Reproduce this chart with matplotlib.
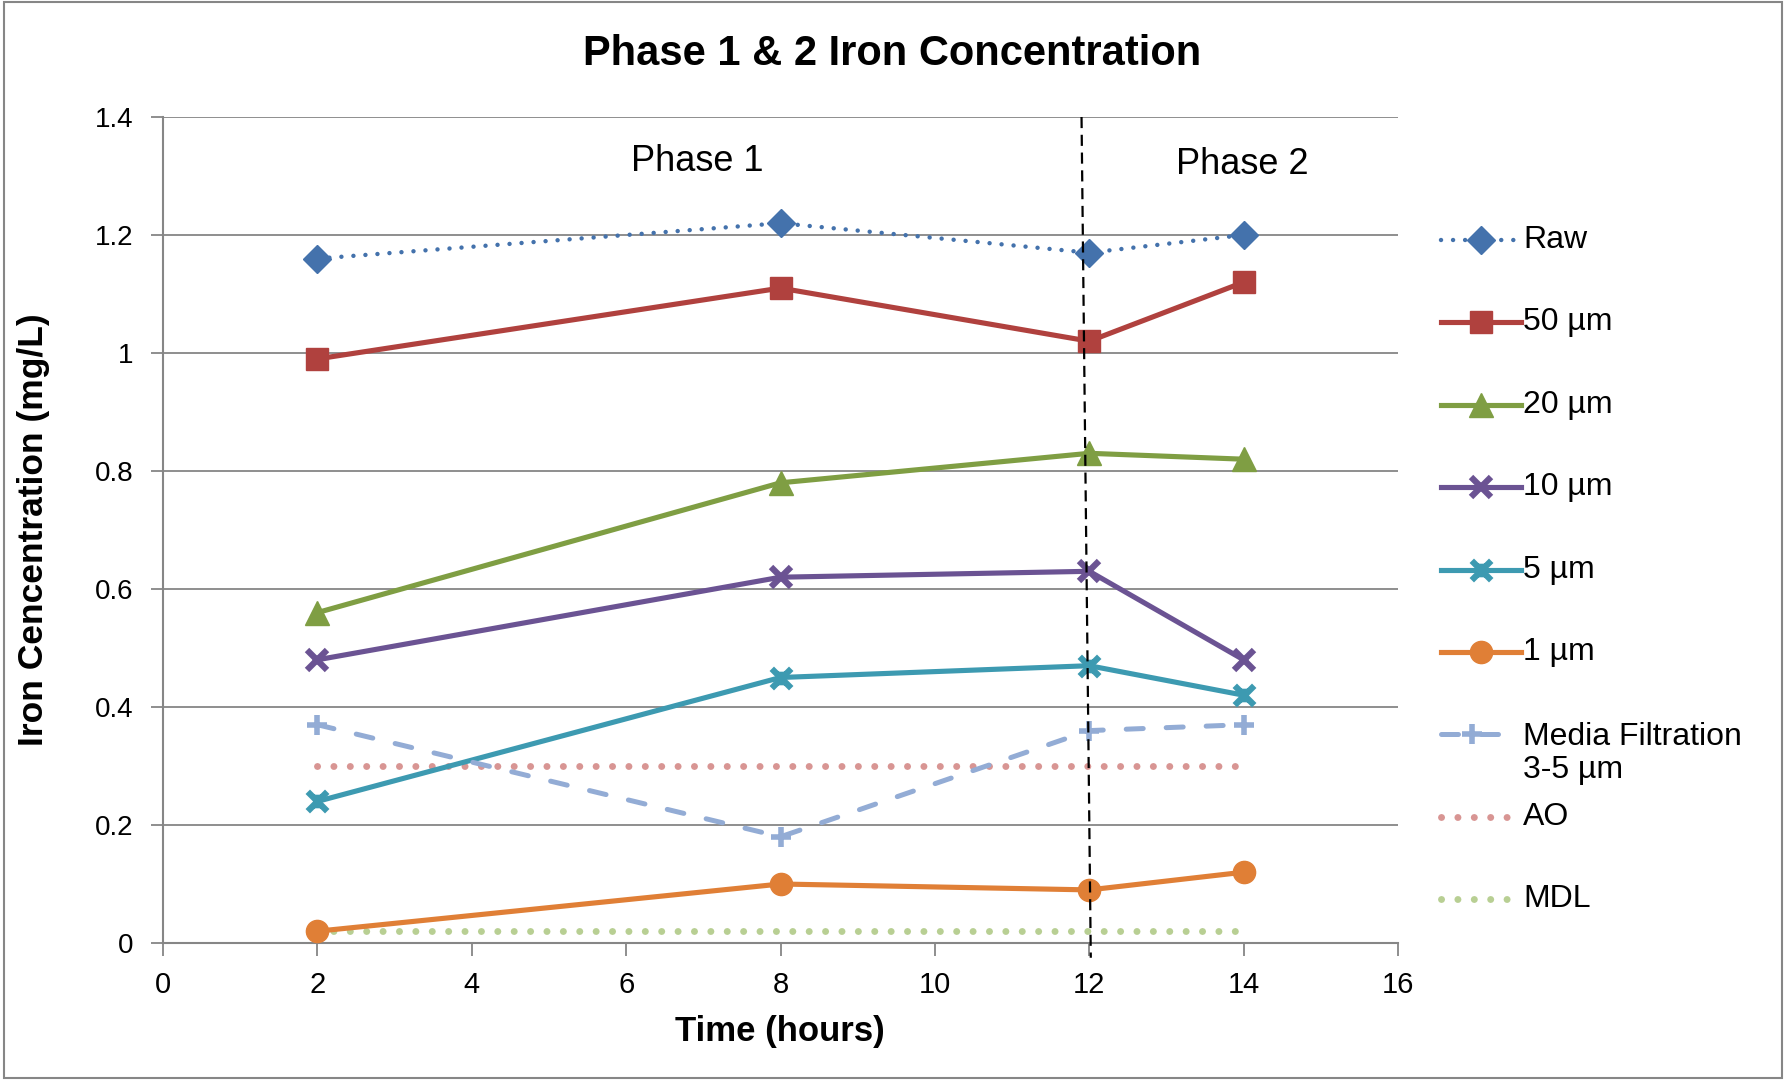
import matplotlib
matplotlib.use('Agg')
import matplotlib.pyplot as plt
from matplotlib.lines import Line2D
from matplotlib.patches import Rectangle
from matplotlib.path import Path

plt.rcParams['font.family'] = ['Liberation Sans', 'DejaVu Sans']

hours = [2, 8, 12, 14]
raw = [1.16, 1.22, 1.17, 1.20]
um50 = [0.99, 1.11, 1.02, 1.12]
um20 = [0.56, 0.78, 0.83, 0.82]
um10 = [0.48, 0.62, 0.63, 0.48]
um5 = [0.24, 0.45, 0.47, 0.42]
um1 = [0.02, 0.10, 0.09, 0.12]
media = [0.37, 0.18, 0.36, 0.37]
ao_level = 0.3
mdl_level = 0.02
ref_hours = [2, 14]
phase_split = 12

# Excel-style "star": an x with a short vertical bar through it
star = Path([(-1, -1), (1, 1), (-1, 1), (1, -1), (0, -0.7), (0, 0.7)],
            [Path.MOVETO, Path.LINETO, Path.MOVETO, Path.LINETO, Path.MOVETO, Path.LINETO])

W, H = 1786, 1080
fig = plt.figure(figsize=(W / 100, H / 100), dpi=100)
ax = fig.add_axes([163 / W, 1 - 943 / H, 1235 / W, 826 / H])

dot_raw = (0, (0.01, 2.7))
dot_ref = (0, (0.01, 2.35))
styles = [
    ('Raw', raw, dict(color='#4472AC', lw=3.2, linestyle=dot_raw, dash_capstyle='round', marker='D', ms=14)),
    ('50 µm', um50, dict(color='#B0413E', lw=3.7, marker='s', ms=16)),
    ('20 µm', um20, dict(color='#7F9E43', lw=3.7, marker='^', ms=17.5)),
    ('10 µm', um10, dict(color='#6B5393', lw=3.7, marker='x', ms=14, mew=4.5)),
    ('5 µm', um5, dict(color='#3D9AB1', lw=3.7, marker=star, ms=14, mew=4.5)),
    ('1 µm', um1, dict(color='#E07F36', lw=3.7, marker='o', ms=16)),
    ('Media Filtration\n3-5 µm', media, dict(color='#93ACD5', lw=3.6, linestyle=(0, (3.4, 4.6)),
                                            dash_capstyle='round', marker='+', ms=14, mew=4)),
]
for label, vals, kw in styles:
    ax.plot(hours, vals, zorder=5, **kw)

ref_styles = [
    ('AO', ao_level, dict(color='#D89593', lw=5, linestyle=dot_ref, dash_capstyle='round')),
    ('MDL', mdl_level, dict(color='#B8CF93', lw=5, linestyle=dot_ref, dash_capstyle='round')),
]
for label, level, kw in ref_styles:
    ax.plot(ref_hours, [level] * len(ref_hours), zorder=3, **kw)

# phase divider, slightly slanted as in the original
ax.plot([phase_split - 0.1, phase_split + 0.02], [1.4, -0.025], color='black', lw=1.6,
        linestyle=(0, (5, 3)), zorder=6, clip_on=False)

ax.set_xlim(0, 16)
ax.set_ylim(0, 1.4)
ax.set_xticks(range(0, 17, 2))
ax.set_yticks([0, 0.2, 0.4, 0.6, 0.8, 1.0, 1.2, 1.4])
ax.set_yticklabels(['0', '0.2', '0.4', '0.6', '0.8', '1', '1.2', '1.4'])
ax.yaxis.grid(True, color='#868686', lw=1.3)
ax.set_axisbelow(True)
for s in ['top', 'right']:
    ax.spines[s].set_visible(False)
for s in ['left', 'bottom']:
    ax.spines[s].set_color('#868686')
    ax.spines[s].set_linewidth(1.5)
ax.tick_params(axis='both', direction='out', color='#868686', width=1.3, length=9)
ax.tick_params(axis='y', pad=12, labelsize=20)
ax.tick_params(axis='x', pad=11, labelsize=21)

ax.text(6.92, 1.325, 'Phase 1', fontsize=26, ha='center', va='center')
ax.text(13.98, 1.32, 'Phase 2', fontsize=26, ha='center', va='center')

fig.text(780 / W, 1 - 1031 / H, 'Time (hours)', fontsize=25, fontweight='bold', ha='center', va='center')
fig.text(34 / W, 1 - 530 / H, 'Iron Cencentration (mg/L)', fontsize=25.5, fontweight='bold',
         rotation=90, ha='center', va='center')
fig.text(0.4994, 1 - 54 / H, 'Phase 1 & 2 Iron Concentration', fontsize=30, fontweight='bold',
         ha='center', va='center')

# legend drawn by hand so the two-line entry keeps the regular row pitch
entries = [(lab, kw) for lab, _, kw in styles] + [(lab, kw) for lab, _, kw in ref_styles]
row0, pitch = 240, 82.4
for i, (lab, kw) in enumerate(entries):
    yc = 1 - (row0 + i * pitch) / H
    x0, x1 = 1441 / W, 1521 / W
    if lab.startswith('Media'):
        x1 = 1503 / W
    xm = (x0 + x1) / 2
    hk = dict(kw)
    if 'marker' in hk:
        hk['markevery'] = [1]
    fig.add_artist(Line2D([x0, xm, x1], [yc, yc, yc], transform=fig.transFigure, **hk))
    if '\n' in lab:
        fig.text(1523 / W, yc - 19 / H, lab, fontsize=23, ha='left', va='center', linespacing=1.1)
    else:
        fig.text(1523 / W, yc, lab, fontsize=23, ha='left', va='center')

fig.add_artist(Rectangle((0.002, 0.002), 0.996, 0.996, transform=fig.transFigure,
                         fill=False, edgecolor='#868686', lw=1.5))

fig.savefig('out.png', dpi=100)
